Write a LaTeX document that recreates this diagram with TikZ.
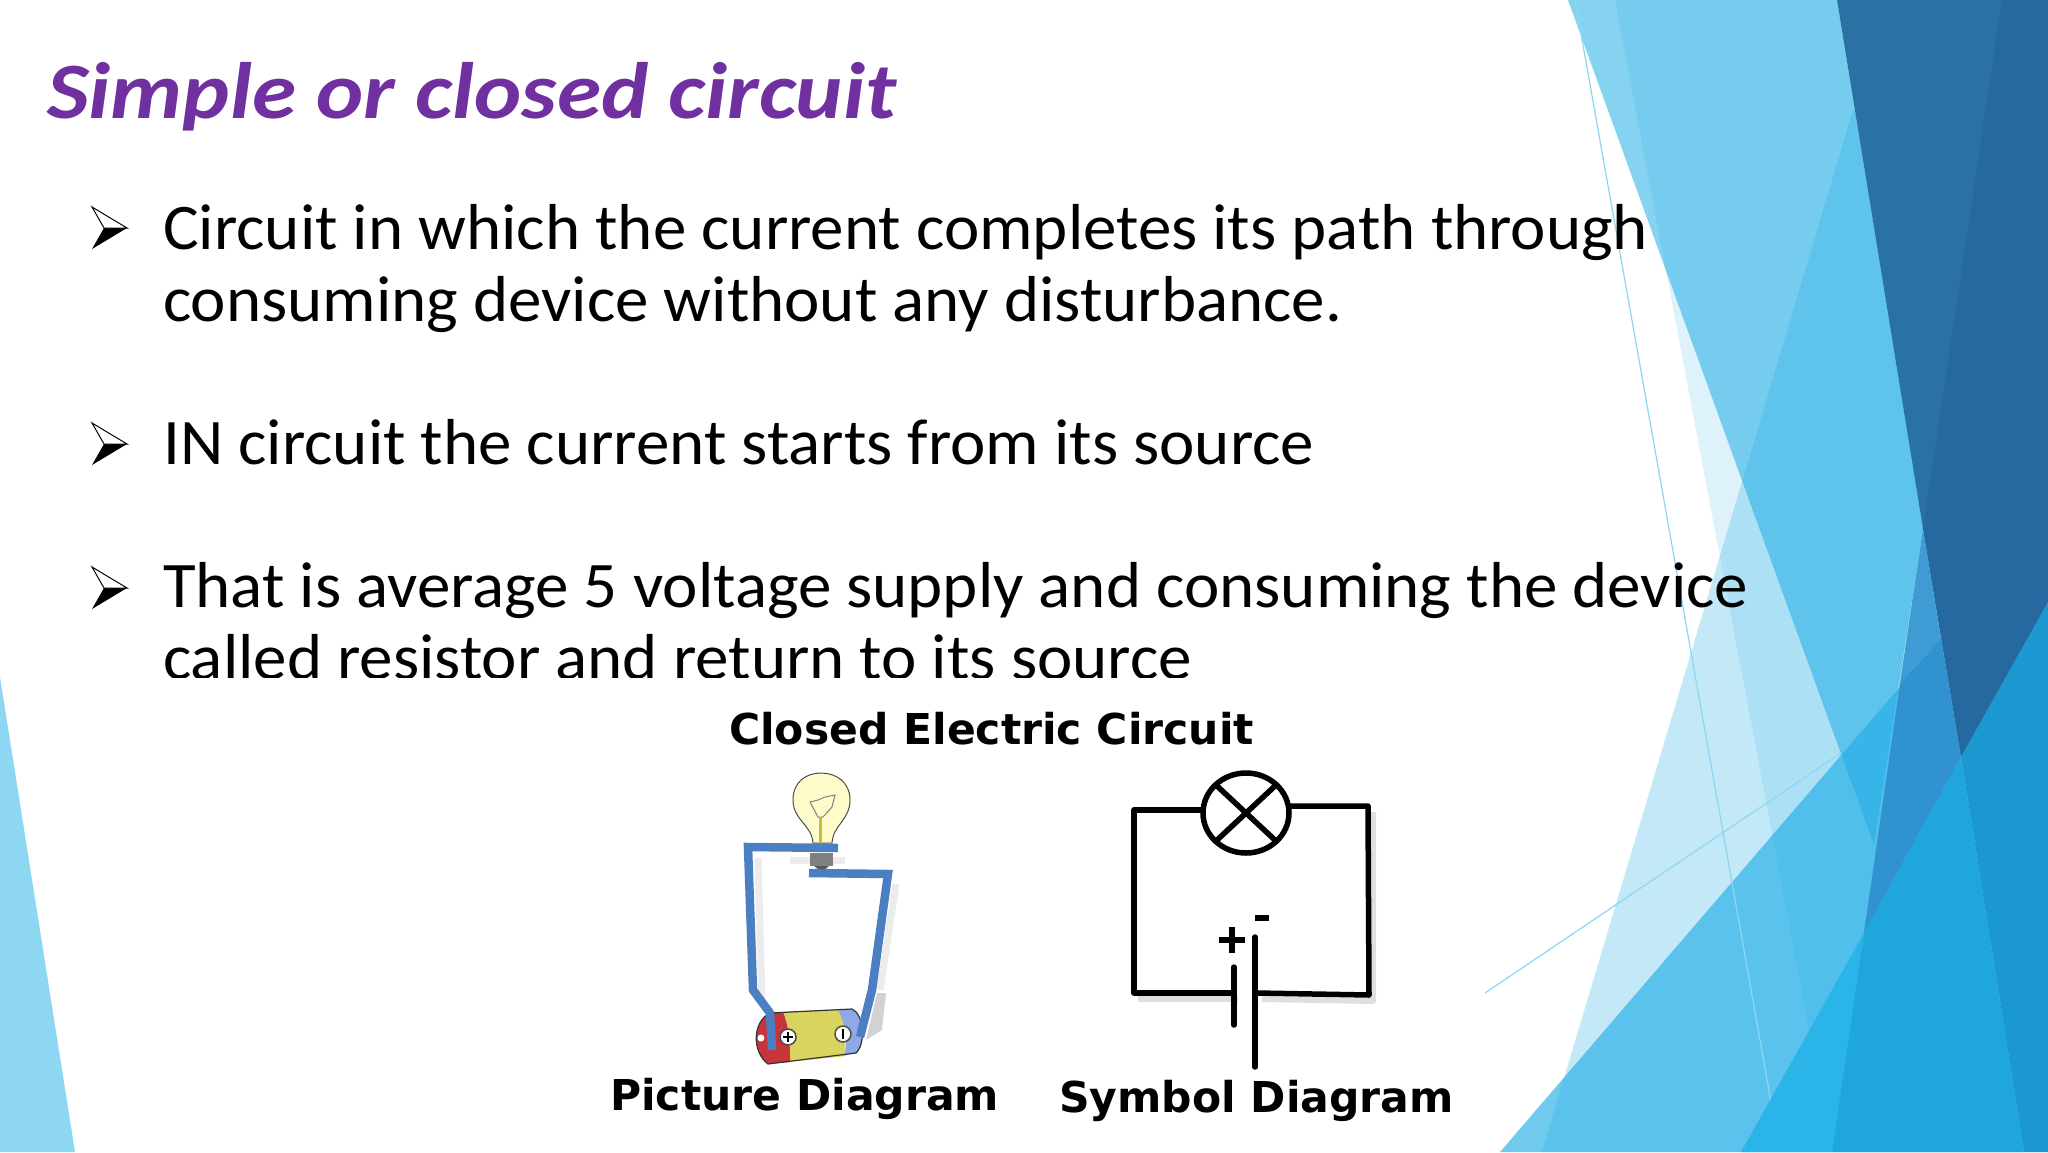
\documentclass[tikz,border=0pt]{standalone}
\usepackage{fontspec}
\newfontfamily\slidefont[FakeStretch=1.03]{Carlito}
\newfontfamily\titlefont[FakeStretch=1.12]{Carlito}
\newfontfamily\labelfont{DejaVu Sans}
\definecolor{titlepurple}{HTML}{7030A0}
\definecolor{facetblue}{HTML}{22AEE6}
\definecolor{facetdark}{HTML}{2A72A4}
\definecolor{facetdeep}{HTML}{2668A0}
\definecolor{facetside}{HTML}{8DD7F2}
\definecolor{facetupper}{HTML}{3E9BD4}
\definecolor{facetlower}{HTML}{3092CF}
\definecolor{seaone}{HTML}{2AB4E7}
\definecolor{seatwo}{HTML}{1FA6DC}
\definecolor{seathree}{HTML}{1A98CF}
\definecolor{wireblue}{HTML}{4A7FC1}
\definecolor{cellred}{HTML}{C8343C}
\definecolor{cellyellow}{HTML}{D9D45E}
\definecolor{cellblue}{HTML}{8FA8E8}
\tikzset{
	bodytext/.style={anchor=base west,inner sep=0pt,font=\slidefont\fontsize{65}{65}\selectfont},
	capt/.style={anchor=base west,inner sep=0pt,font=\labelfont\bfseries\fontsize{42.5}{42.5}\selectfont},
	symline/.style={line width=5.5pt,black,line cap=round,line join=round},
	signline/.style={line width=6pt,black},
	symshadow/.style={line width=6pt,gray,opacity=.25,line join=round},
	wire/.style={line width=8.5pt,wireblue,line join=miter},
	wireshadow/.style={line width=7pt,gray,opacity=.15}
}
\begin{document}
\begin{tikzpicture}[x=1pt,y=-1pt]

	\useasboundingbox (0,0) rectangle (2048,1152);
	\fill[white] (0,0) rectangle (2048,1152);

	% background facets
	\coordinate (a) at (1568,0);
	\coordinate (b) at (1837,0);
	\coordinate (c) at (2002,0);
	\coordinate (d) at (1923,529);
	\coordinate (e) at (1961,757);
	\coordinate (f) at (2048,602);
	\coordinate (g) at (1853,110);
	\coordinate (i) at (1841,753);
	\coordinate (l) at (1542,1152);
	\coordinate (m) at (1500,1152);
	\coordinate (n) at (1941,639);
	\coordinate (o) at (1900,683);
	\coordinate (p) at (1874,845);
	\coordinate (q) at (1864,933);
	\coordinate (r) at (1741,1152);
	\coordinate (s) at (1832,1152);
	\coordinate (t) at (2024,1152);
	\coordinate (u) at (1615,0);

	\fill[facetside] (0,677) -- (75,1152) -- (0,1152) -- cycle;
	\fill[facetblue,opacity=.27] (g) -- (l) -- (2048,1152) -- (2048,110) -- cycle;
	\fill[facetblue,opacity=.15] (u) -- (s) -- (2048,1152) -- (2048,0) -- cycle;
	\fill[facetblue,opacity=.55] (a) -- (p) -- (d) -- (b) -- cycle;
	\fill[facetblue,opacity=.65] (m) -- (n) -- (t) -- cycle;
	\draw[facetside,line width=1.2pt] (1575,0) -- (1771,1102);
	\draw[facetside,line width=1.2pt] (1485,993) -- (i);
	\fill[facetdark] (b) -- (2048,0) -- (f) -- (e) -- (d) -- cycle;
	\fill[facetdeep] (c) -- (2048,0) -- (f) -- (e) -- (d) -- cycle;
	\fill[facetupper] (d) -- (n) -- (o) -- cycle;
	\fill[facetlower] (o) -- (n) -- (e) -- (q) -- cycle;
	\fill[seaone] (r) -- (q) -- (s) -- cycle;
	\fill[seatwo] (q) -- (e) -- (t) -- (s) -- cycle;
	\fill[seathree] (e) -- (f) -- (2048,1152) -- (t) -- cycle;

	% slide text
	\node[anchor=base west,inner sep=0pt,text=titlepurple,font=\titlefont\bfseries\itshape\fontsize{80}{80}\selectfont] (title) at (47,118) {Simple or closed circuit};
	\node[bodytext] (lineA) at (163,249) {Circuit in which the current completes its path through};
	\node[bodytext] (lineB) at (163,321) {consuming device without any disturbance.};
	\node[bodytext] (lineC) at (163,464) {IN circuit the current starts from its source};
	\node[bodytext] (lineD) at (163,607) {That is average 5 voltage supply and consuming the device};
	\node[bodytext] (lineE) at (163,679) {called resistor and return to its source};

	\foreach \y in {228,444,588}{
		\fill[black] (92,\y+21) -- (127,\y) -- (104,\y) -- cycle;
		\draw[black,line width=1pt,fill=white] (92,\y-21) -- (127,\y) -- (104,\y) -- cycle;
	}

	% pasted picture
	\fill[white] (75,678) rectangle (1485,1152);
	\node[capt] (head) at (729,744) {Closed Electric Circuit};
	\node[capt] (picLabel) at (610,1110) {Picture Diagram};
	\node[capt] (symLabel) at (1059,1112) {Symbol Diagram};

	% picture diagram
	\draw[wireshadow] (758,858) -- (762,1000);
	\draw[wireshadow] (896,884) -- (880,990);
	\draw[wireshadow] (790,860) -- (845,860);
	\fill[gray,opacity=.35] (877,993) -- (886,993) -- (882,1030) -- (866,1040) -- cycle;

	\fill[gray] (810,853) rectangle (833,866);
	\fill[gray!70!black] (814,866) -- (829,866) -- (822,872) -- cycle;
	\draw[black!70,fill=yellow!20,line width=1pt] (813,843) .. controls (812,825) and (793,820) .. (793,800) .. controls (793,782) and (806,773) .. (821,773) .. controls (836,773) and (850,782) .. (850,800) .. controls (850,820) and (833,825) .. (832,843) -- cycle;
	\draw[gray,line width=1pt] (810,802) -- (818,800) -- (825,797) -- (835,795) -- (832,807) -- (823,817) -- (818,817) -- (810,802);
	\draw[yellow!75!black,line width=3pt] (820,818) -- (820,843);

	% battery
	\fill[cellyellow] (782,1012) -- (842,1009) -- (846,1056) -- (788,1062) -- cycle;
	\fill[cellred] (770,1013) -- (783,1012) .. controls (790,1030) and (790,1048) .. (790,1062) -- (768,1064) .. controls (752,1052) and (752,1022) .. (770,1013) -- cycle;
	\fill[cellblue] (838,1010) -- (852,1009) .. controls (864,1014) and (866,1044) .. (856,1053) -- (845,1055) .. controls (847,1040) and (845,1022) .. (838,1010) -- cycle;
	\draw[black!80,line width=1.2pt] (770,1013) -- (852,1009) .. controls (864,1014) and (866,1044) .. (856,1053) -- (768,1064) .. controls (752,1052) and (752,1022) .. (770,1013);
	\draw[black!70,fill=white,line width=1.5pt] (788,1037) circle (8);
	\draw[black!70,fill=white,line width=1.5pt] (843,1034) circle (8);
	\draw[black,line width=1.5pt] (783,1037) -- (793,1037) (788,1032) -- (788,1042);
	\draw[black,line width=1.5pt] (843,1029) -- (843,1039);
	\fill[white] (761,1038) circle (3.5);

	\draw[wire] (838,848) -- (748,847) -- (753,990) -- (770,1013) -- (772,1050);
	\draw[wire] (809,873) -- (888,874) -- (872,990) -- (860,1037);

	% symbol diagram
	\draw[symshadow] (1138,999) -- (1238,999);
	\draw[symshadow] (1262,999) -- (1373,1001) -- (1373,812);
	\draw[symline] (1203,810) -- (1134,810) -- (1134,993) -- (1234,993);
	\draw[symline] (1289,806) -- (1368,806) -- (1369,995) -- (1257,993);
	\draw[symline,fill=white] (1246,813) ellipse (43 and 40);
	\draw[symline] (1216,785) -- (1276,841);
	\draw[symline] (1276,785) -- (1216,841);
	\draw[symline] (1234,967) -- (1234,1025);
	\draw[symline] (1255,937) -- (1255,1067);
	\draw[signline] (1219,940) -- (1245,940);
	\draw[signline] (1232,927) -- (1232,953);
	\draw[signline] (1255,918) -- (1269,918);

\end{tikzpicture}
\end{document}
